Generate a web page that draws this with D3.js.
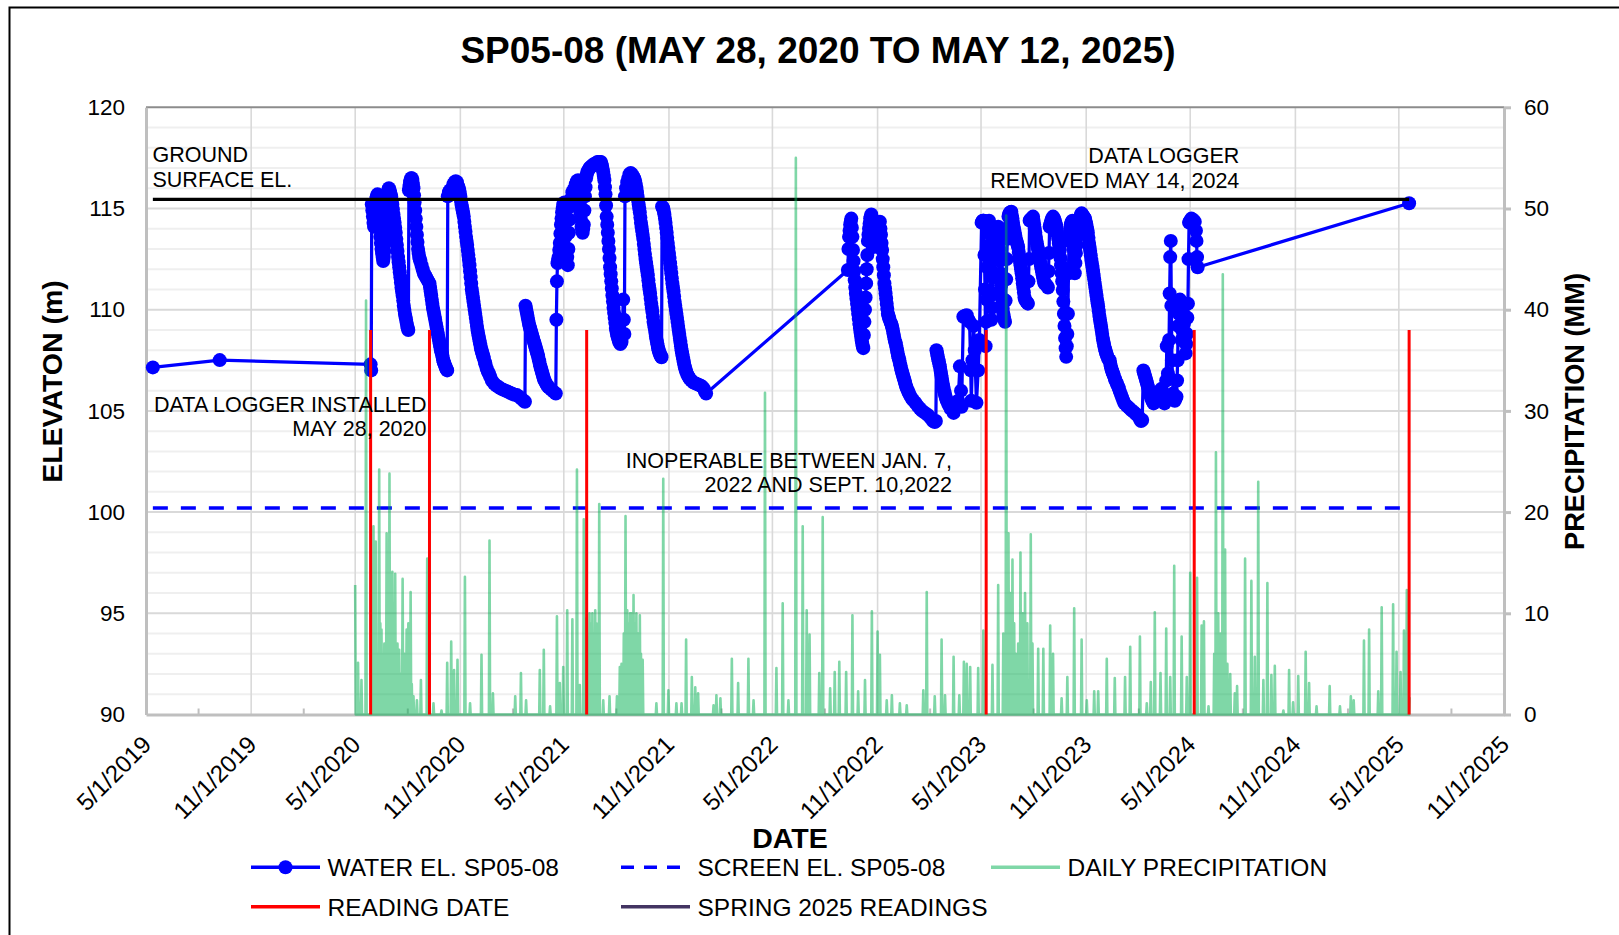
<!DOCTYPE html>
<html>
<head>
<meta charset="utf-8">
<script src="https://d3js.org/d3.v7.min.js"></script>
<style>
html,body{margin:0;padding:0;background:#fff;}
svg{display:block;}
text{font-family:"Liberation Sans",Arial,Helvetica,sans-serif;}
</style>
</head>
<body>
<svg id="chart" width="1619" height="935"></svg>
<script>
// ================= DATA =================
const chartTitle = "SP05-08 (MAY 28, 2020 TO MAY 12, 2025)";
const xTickLabels = ["5/1/2019","11/1/2019","5/1/2020","11/1/2020","5/1/2021","11/1/2021","5/1/2022","11/1/2022","5/1/2023","11/1/2023","5/1/2024","11/1/2024","5/1/2025","11/1/2025"];
const leftTicks = [90,95,100,105,110,115,120];
const rightTicks = [0,10,20,30,40,50,60];

// water elevation (m): manual readings + data logger
const waterReadings = [
["2019-05-13",107.15],["2019-09-07",107.51],["2020-05-28",107.3],["2020-05-29",107.0],
["2020-05-30",115.2],["2020-05-31",114.9],["2020-06-01",114.6],["2020-06-02",114.3],["2020-06-03",114.1],["2020-06-04",114.6],["2020-06-05",115.1],["2020-06-06",115.3],["2020-06-07",115.5],["2020-06-08",115.6],["2020-06-09",115.7],["2020-06-10",115.4],["2020-06-11",115.0],["2020-06-12",114.5],["2020-06-13",114.0],["2020-06-14",113.6],["2020-06-15",113.3],["2020-06-16",113.0],["2020-06-17",112.8],["2020-06-18",112.6],["2020-06-19",112.4],["2020-06-20",112.6],["2020-06-21",112.9],["2020-06-22",113.3],["2020-06-23",113.8],["2020-06-24",114.4],["2020-06-25",115.0],["2020-06-26",115.4],["2020-06-27",115.8],["2020-06-28",115.9],["2020-06-29",116.0],["2020-06-30",115.9],
["2020-07-01",115.8],["2020-07-02",115.7],["2020-07-03",115.6],["2020-07-04",115.4],["2020-07-05",115.2],["2020-07-06",114.95],["2020-07-07",114.7],["2020-07-08",114.5],["2020-07-09",114.3],["2020-07-10",114.05],["2020-07-11",113.8],["2020-07-12",113.5],["2020-07-13",113.2],["2020-07-14",112.9],["2020-07-15",112.6],["2020-07-16",112.35],["2020-07-17",112.1],["2020-07-18",111.85],["2020-07-19",111.6],["2020-07-20",111.35],["2020-07-21",111.1],["2020-07-22",110.9],["2020-07-23",110.7],["2020-07-24",110.45],["2020-07-25",110.2],["2020-07-26",110.0],["2020-07-27",109.8],["2020-07-28",109.65],["2020-07-29",109.5],["2020-07-30",109.35],["2020-07-31",109.2],["2020-08-01",109.1],["2020-08-02",109.0],
["2020-08-03",115.9],["2020-08-04",116.1],["2020-08-05",116.3],["2020-08-06",116.4],["2020-08-07",116.5],["2020-08-08",116.5],["2020-08-09",116.4],["2020-08-10",116.2],["2020-08-11",116.0],["2020-08-12",115.65],["2020-08-13",115.3],["2020-08-14",114.9],["2020-08-15",114.5],["2020-08-16",114.1],["2020-08-17",113.7],["2020-08-18",113.35],["2020-08-19",113.0],["2020-08-20",112.8],["2020-08-21",112.6],["2020-08-22",112.5],["2020-08-23",112.4],["2020-08-25",112.2],["2020-08-27",112.0],["2020-08-29",111.8],["2020-08-31",111.7],["2020-09-02",111.6],["2020-09-04",111.5],["2020-09-06",111.4],["2020-09-08",111.3],["2020-09-09",111.1],["2020-09-10",110.9],["2020-09-11",110.7],["2020-09-12",110.5],["2020-09-13",110.3],["2020-09-14",110.1],["2020-09-15",109.95],["2020-09-16",109.8],["2020-09-17",109.65],["2020-09-18",109.5],["2020-09-19",109.35],["2020-09-20",109.2],["2020-09-21",109.05],["2020-09-22",108.9],["2020-09-23",108.75],["2020-09-24",108.6],["2020-09-25",108.45],["2020-09-26",108.3],["2020-09-27",108.15],["2020-09-28",108.0],["2020-09-29",107.9],["2020-09-30",107.8],["2020-10-01",107.65],["2020-10-02",107.5],["2020-10-03",107.4],["2020-10-04",107.35],["2020-10-05",107.25],["2020-10-06",107.2],["2020-10-07",107.1],["2020-10-08",107.05],["2020-10-09",107.0],
["2020-10-10",115.6],["2020-10-12",115.8],["2020-10-14",115.9],["2020-10-16",115.7],["2020-10-18",116.0],["2020-10-20",116.2],["2020-10-22",116.3],["2020-10-24",116.35],["2020-10-26",116.3],["2020-10-28",116.1],["2020-10-29",116.0],["2020-10-30",115.9],["2020-10-31",115.75],["2020-11-01",115.6],["2020-11-02",115.4],["2020-11-03",115.2],["2020-11-04",115.05],["2020-11-05",114.9],["2020-11-06",114.75],["2020-11-07",114.6],["2020-11-08",114.35],["2020-11-09",114.1],["2020-11-10",113.85],["2020-11-11",113.6],["2020-11-12",113.4],["2020-11-13",113.2],["2020-11-14",112.95],["2020-11-15",112.7],["2020-11-16",112.45],["2020-11-17",112.2],["2020-11-18",111.9],["2020-11-19",111.6],["2020-11-20",111.3],["2020-11-21",111.0],["2020-11-22",110.8],["2020-11-23",110.6],["2020-11-24",110.4],["2020-11-25",110.2],["2020-11-26",110.0],["2020-11-27",109.8],["2020-11-28",109.6],["2020-11-29",109.4],["2020-11-30",109.2],["2020-12-01",109.0],["2020-12-02",108.85],["2020-12-03",108.7],["2020-12-04",108.55],["2020-12-05",108.4],["2020-12-06",108.25],["2020-12-07",108.1],["2020-12-08",108.0],["2020-12-09",107.9],["2020-12-10",107.8],["2020-12-11",107.7],["2020-12-12",107.6],["2020-12-14",107.4],["2020-12-15",107.3],["2020-12-17",107.1],["2020-12-19",106.95],["2020-12-21",106.85],["2020-12-23",106.7],["2020-12-26",106.5],["2020-12-30",106.35],["2021-01-03",106.25],["2021-01-07",106.18],["2021-01-11",106.1],["2021-01-15",106.05],["2021-01-19",106.0],["2021-01-23",105.95],["2021-01-27",105.9],["2021-01-31",105.85],["2021-02-04",105.8],["2021-02-08",105.78],["2021-02-12",105.7],["2021-02-16",105.6],["2021-02-20",105.5],["2021-02-22",105.45],
["2021-02-23",110.2],["2021-02-24",110.05],["2021-02-25",109.9],["2021-02-26",109.75],["2021-02-27",109.6],["2021-02-28",109.45],["2021-03-01",109.3],["2021-03-02",109.2],["2021-03-03",109.1],["2021-03-04",109.0],["2021-03-05",108.9],["2021-03-06",108.8],["2021-03-07",108.7],["2021-03-08",108.6],["2021-03-09",108.5],["2021-03-10",108.4],["2021-03-11",108.3],["2021-03-12",108.2],["2021-03-13",108.1],["2021-03-14",108.0],["2021-03-15",107.9],["2021-03-16",107.8],["2021-03-17",107.7],["2021-03-18",107.57],["2021-03-19",107.45],["2021-03-20",107.32],["2021-03-21",107.2],["2021-03-22",107.1],["2021-03-23",107.0],["2021-03-24",106.9],["2021-03-25",106.8],["2021-03-26",106.7],["2021-03-27",106.6],["2021-03-28",106.52],["2021-03-30",106.4],["2021-04-01",106.3],["2021-04-03",106.22],["2021-04-05",106.15],["2021-04-09",106.05],["2021-04-13",105.95],["2021-04-17",105.86],
["2021-04-18",109.5],["2021-04-19",111.4],["2021-04-20",112.3],["2021-04-21",112.45],["2021-04-22",112.6],["2021-04-23",112.95],["2021-04-24",113.3],["2021-04-25",113.75],["2021-04-26",114.2],["2021-04-27",114.5],["2021-04-28",114.8],["2021-04-29",115.0],["2021-04-30",115.2],["2021-05-01",115.25],["2021-05-02",115.3],["2021-05-03",114.8],["2021-05-04",114.3],["2021-05-05",113.65],["2021-05-06",113.0],["2021-05-07",112.6],["2021-05-08",112.2],["2021-05-09",113.0],["2021-05-10",113.8],["2021-05-11",114.45],["2021-05-12",115.1],["2021-05-13",115.3],["2021-05-14",115.5],["2021-05-16",115.8],["2021-05-18",115.9],["2021-05-20",116.0],["2021-05-22",116.2],["2021-05-24",116.35],["2021-05-26",116.4],["2021-05-27",116.1],["2021-05-28",115.8],["2021-05-29",115.3],["2021-05-30",114.8],["2021-05-31",114.45],["2021-06-01",114.1],["2021-06-02",113.95],["2021-06-03",113.8],["2021-06-04",114.0],["2021-06-05",114.2],["2021-06-06",114.9],["2021-06-07",115.6],["2021-06-08",116.05],["2021-06-09",116.5],["2021-06-10",116.65],["2021-06-11",116.8],["2021-06-13",116.9],["2021-06-15",117.0],["2021-06-17",117.05],["2021-06-19",117.1],["2021-06-21",117.15],["2021-06-23",117.2],["2021-06-25",117.2],["2021-06-27",117.25],["2021-06-29",117.3],["2021-07-01",117.3],["2021-07-03",117.3],["2021-07-05",117.3],["2021-07-06",117.2],["2021-07-07",117.1],["2021-07-08",116.95],["2021-07-09",116.8],["2021-07-10",116.6],["2021-07-11",116.4],["2021-07-12",116.05],["2021-07-13",115.7],["2021-07-14",115.15],["2021-07-15",114.6],["2021-07-16",114.2],["2021-07-17",113.8],["2021-07-18",113.4],["2021-07-19",113.0],["2021-07-20",112.55],["2021-07-21",112.1],["2021-07-22",111.75],["2021-07-23",111.4],["2021-07-24",111.05],["2021-07-25",110.7],["2021-07-26",110.4],["2021-07-27",110.1],["2021-07-28",109.85],["2021-07-29",109.6],["2021-07-30",109.35],["2021-07-31",109.1],["2021-08-01",108.95],["2021-08-02",108.8],["2021-08-03",108.7],["2021-08-04",108.6],["2021-08-05",108.5],["2021-08-06",108.4],["2021-08-08",108.3],["2021-08-10",108.4],["2021-08-12",109.5],["2021-08-13",110.5],["2021-08-14",109.5],["2021-08-15",108.8],
["2021-08-16",115.6],["2021-08-18",116.0],["2021-08-20",116.3],["2021-08-22",116.5],["2021-08-24",116.7],["2021-08-26",116.75],["2021-08-28",116.7],["2021-08-30",116.6],["2021-09-01",116.5],["2021-09-02",116.4],["2021-09-03",116.3],["2021-09-04",116.15],["2021-09-05",116.0],["2021-09-06",115.8],["2021-09-07",115.6],["2021-09-08",115.4],["2021-09-09",115.2],["2021-09-10",115.0],["2021-09-11",114.8],["2021-09-12",114.55],["2021-09-13",114.3],["2021-09-14",114.1],["2021-09-15",113.9],["2021-09-16",113.7],["2021-09-17",113.5],["2021-09-18",113.25],["2021-09-19",113.0],["2021-09-20",112.75],["2021-09-21",112.5],["2021-09-22",112.3],["2021-09-23",112.1],["2021-09-24",111.9],["2021-09-25",111.7],["2021-09-26",111.45],["2021-09-27",111.2],["2021-09-28",111.0],["2021-09-29",110.8],["2021-09-30",110.55],["2021-10-01",110.3],["2021-10-02",110.1],["2021-10-03",109.9],["2021-10-04",109.65],["2021-10-05",109.4],["2021-10-06",109.25],["2021-10-07",109.1],["2021-10-08",108.9],["2021-10-09",108.7],["2021-10-10",108.55],["2021-10-11",108.4],["2021-10-12",108.25],["2021-10-13",108.1],["2021-10-14",108.0],["2021-10-15",107.9],["2021-10-16",107.82],["2021-10-17",107.75],["2021-10-18",107.7],["2021-10-19",107.65],
["2021-10-20",115.1],["2021-10-21",115.05],["2021-10-22",115.0],["2021-10-23",114.85],["2021-10-24",114.7],["2021-10-25",114.5],["2021-10-26",114.3],["2021-10-27",114.05],["2021-10-28",113.8],["2021-10-29",113.55],["2021-10-30",113.3],["2021-10-31",113.05],["2021-11-01",112.8],["2021-11-02",112.55],["2021-11-03",112.3],["2021-11-04",112.05],["2021-11-05",111.8],["2021-11-06",111.55],["2021-11-07",111.3],["2021-11-08",111.1],["2021-11-09",110.9],["2021-11-10",110.65],["2021-11-11",110.4],["2021-11-12",110.2],["2021-11-13",110.0],["2021-11-14",109.8],["2021-11-15",109.6],["2021-11-16",109.4],["2021-11-17",109.2],["2021-11-18",109.0],["2021-11-19",108.8],["2021-11-20",108.6],["2021-11-21",108.4],["2021-11-22",108.2],["2021-11-23",108.0],["2021-11-24",107.85],["2021-11-25",107.7],["2021-11-26",107.55],["2021-11-27",107.4],["2021-11-28",107.27],["2021-11-29",107.15],["2021-11-30",107.05],["2021-12-01",106.95],["2021-12-03",106.8],["2021-12-05",106.7],["2021-12-07",106.6],["2021-12-10",106.5],["2021-12-14",106.4],["2021-12-18",106.35],["2021-12-22",106.3],["2021-12-26",106.25],["2021-12-29",106.2],["2022-01-01",106.1],["2022-01-03",105.95],["2022-01-05",105.86],
["2022-09-10",111.96],["2022-09-11",113.0],["2022-09-12",113.6],["2022-09-13",113.9],["2022-09-14",114.2],["2022-09-15",114.35],["2022-09-16",114.5],["2022-09-17",114.05],["2022-09-18",113.6],["2022-09-19",112.95],["2022-09-20",112.4],["2022-09-21",111.9],["2022-09-22",111.46],["2022-09-23",111.1],["2022-09-24",110.8],["2022-09-25",110.55],["2022-09-26",110.3],["2022-09-27",110.05],["2022-09-28",109.8],["2022-09-29",109.55],["2022-09-30",109.3],["2022-10-01",109.1],["2022-10-02",108.9],["2022-10-03",108.7],["2022-10-04",108.5],["2022-10-05",108.35],["2022-10-06",108.2],["2022-10-07",108.1],["2022-10-08",108.75],["2022-10-09",109.4],["2022-10-10",110.0],["2022-10-11",110.6],["2022-10-12",111.3],["2022-10-13",112.0],["2022-10-14",112.7],["2022-10-15",113.4],["2022-10-16",113.7],["2022-10-17",114.0],["2022-10-18",114.25],["2022-10-19",114.5],["2022-10-20",114.6],["2022-10-21",114.7],["2022-10-22",114.3],["2022-10-23",113.9],["2022-10-24",113.5],["2022-10-25",113.1],["2022-10-26",113.3],["2022-10-27",113.5],["2022-10-28",113.7],["2022-10-29",113.9],["2022-10-30",114.1],["2022-11-01",114.25],["2022-11-03",114.3],["2022-11-05",114.35],["2022-11-06",114.0],["2022-11-07",113.7],["2022-11-08",113.3],["2022-11-09",112.95],["2022-11-10",112.5],["2022-11-11",112.1],["2022-11-12",111.7],["2022-11-13",111.3],["2022-11-14",111.05],["2022-11-15",110.8],["2022-11-16",110.55],["2022-11-17",110.3],["2022-11-18",110.05],["2022-11-19",109.8],["2022-11-20",109.7],["2022-11-21",109.6],["2022-11-22",109.5],["2022-11-24",109.35],["2022-11-25",109.3],["2022-11-26",109.2],["2022-11-27",109.1],["2022-11-28",108.95],["2022-11-29",108.8],["2022-11-30",108.65],["2022-12-01",108.5],["2022-12-02",108.4],["2022-12-03",108.3],["2022-12-04",108.15],["2022-12-05",108.0],["2022-12-06",107.85],["2022-12-07",107.7],["2022-12-08",107.6],["2022-12-09",107.5],["2022-12-10",107.37],["2022-12-11",107.25],["2022-12-12",107.12],["2022-12-13",107.0],["2022-12-14",106.9],["2022-12-15",106.8],["2022-12-16",106.7],["2022-12-17",106.6],["2022-12-18",106.5],["2022-12-19",106.4],["2022-12-20",106.3],["2022-12-21",106.2],["2022-12-22",106.13],["2022-12-24",106.0],["2022-12-25",105.93],["2022-12-27",105.8],["2022-12-30",105.65],["2023-01-02",105.53],["2023-01-06",105.4],["2023-01-10",105.25],["2023-01-14",105.12],["2023-01-18",105.0],["2023-01-23",104.9],["2023-01-28",104.8],["2023-02-02",104.65],["2023-02-06",104.5],["2023-02-09",104.45],["2023-02-11",104.5],
["2023-02-12",108.0],["2023-02-13",107.85],["2023-02-14",107.7],["2023-02-15",107.57],["2023-02-16",107.45],["2023-02-17",107.32],["2023-02-18",107.2],["2023-02-19",107.02],["2023-02-20",106.85],["2023-02-21",106.67],["2023-02-22",106.5],["2023-02-23",106.35],["2023-02-24",106.2],["2023-02-25",106.05],["2023-02-26",105.93],["2023-02-27",105.8],["2023-02-28",105.7],["2023-03-01",105.6],["2023-03-02",105.5],["2023-03-05",105.3],["2023-03-09",105.1],["2023-03-14",104.9],["2023-03-18",105.2],["2023-03-22",105.5],["2023-03-25",107.2],["2023-03-27",106.0],["2023-03-28",105.2],["2023-03-31",109.65],["2023-04-03",109.7],["2023-04-06",109.73],["2023-04-09",109.5],["2023-04-11",109.4],["2023-04-13",107.0],["2023-04-14",105.5],["2023-04-16",107.5],["2023-04-18",109.2],["2023-04-20",108.0],["2023-04-23",105.4],["2023-04-26",107.0],["2023-04-28",108.5],
["2023-05-02",114.3],["2023-05-03",114.35],["2023-05-04",114.4],["2023-05-05",114.4],["2023-05-06",114.4],["2023-05-07",112.7],["2023-05-08",111.0],["2023-05-09",108.2],["2023-05-10",109.4],["2023-05-11",110.5],["2023-05-12",112.1],["2023-05-13",113.0],["2023-05-14",113.8],["2023-05-15",114.4],["2023-05-16",113.2],["2023-05-17",112.0],["2023-05-18",110.7],["2023-05-19",109.5],["2023-05-20",110.1],["2023-05-21",110.8],["2023-05-22",111.6],["2023-05-23",112.5],["2023-05-24",113.0],["2023-05-25",113.4],["2023-05-26",113.55],["2023-05-27",113.7],["2023-05-28",113.8],["2023-05-29",113.9],["2023-05-30",114.0],["2023-05-31",114.1],["2023-06-01",113.55],["2023-06-02",113.0],["2023-06-03",112.4],["2023-06-04",111.8],["2023-06-05",111.2],["2023-06-06",110.6],["2023-06-07",110.3],["2023-06-08",110.05],["2023-06-09",109.8],["2023-06-10",109.65],["2023-06-11",109.5],["2023-06-12",109.4],["2023-06-13",110.45],["2023-06-14",111.5],["2023-06-15",112.5],["2023-06-16",113.5],["2023-06-17",114.05],["2023-06-18",114.6],["2023-06-19",114.7],["2023-06-20",114.75],["2023-06-21",114.8],["2023-06-22",114.82],["2023-06-23",114.84],["2023-06-24",114.65],["2023-06-25",114.5],["2023-06-26",114.3],["2023-06-27",114.1],["2023-06-28",113.95],["2023-06-29",113.8],["2023-06-30",113.65],
["2023-07-01",113.5],["2023-07-02",113.4],["2023-07-03",113.3],["2023-07-04",113.2],["2023-07-05",113.1],["2023-07-06",112.85],["2023-07-07",112.6],["2023-07-08",112.4],["2023-07-09",112.2],["2023-07-10",112.0],["2023-07-11",111.8],["2023-07-12",111.55],["2023-07-13",111.3],["2023-07-14",111.1],["2023-07-15",110.85],["2023-07-16",110.6],["2023-07-17",110.5],["2023-07-19",110.4],["2023-07-21",110.35],["2023-07-22",110.3],["2023-07-23",111.4],["2023-07-24",112.5],["2023-07-25",114.4],["2023-07-26",114.45],["2023-07-28",114.5],["2023-07-30",114.55],["2023-07-31",114.6],["2023-08-01",114.4],["2023-08-02",114.2],["2023-08-03",114.0],["2023-08-04",113.8],["2023-08-05",113.6],["2023-08-06",113.4],["2023-08-07",113.25],["2023-08-08",113.1],["2023-08-09",112.95],["2023-08-10",112.8],["2023-08-11",112.65],["2023-08-12",112.5],["2023-08-13",112.3],["2023-08-14",112.15],["2023-08-15",112.0],["2023-08-16",111.85],["2023-08-17",111.7],["2023-08-18",111.55],["2023-08-19",111.4],["2023-08-20",111.3],["2023-08-22",111.25],["2023-08-24",111.2],["2023-08-26",111.1],["2023-08-27",111.9],["2023-08-28",112.8],["2023-08-29",114.1],["2023-08-30",114.2],["2023-08-31",114.3],["2023-09-01",114.4],["2023-09-02",114.5],["2023-09-04",114.6],["2023-09-06",114.5],["2023-09-07",114.4],["2023-09-08",114.3],["2023-09-09",114.2],["2023-09-10",114.1],["2023-09-11",113.9],["2023-09-12",113.7],["2023-09-13",113.5],["2023-09-14",113.3],["2023-09-15",113.1],["2023-09-16",112.95],["2023-09-17",112.55],["2023-09-18",112.2],["2023-09-19",111.8],["2023-09-20",111.4],["2023-09-21",110.97],["2023-09-22",110.4],["2023-09-23",109.8],["2023-09-24",109.2],["2023-09-25",108.6],["2023-09-26",108.1],["2023-09-27",107.67],["2023-09-28",108.2],["2023-09-29",108.8],["2023-09-30",109.8],
["2023-10-01",111.8],["2023-10-02",113.4],["2023-10-03",113.7],["2023-10-04",114.0],["2023-10-05",114.2],["2023-10-06",114.3],["2023-10-07",114.35],["2023-10-08",114.4],["2023-10-09",113.7],["2023-10-10",113.0],["2023-10-11",112.4],["2023-10-12",111.8],["2023-10-13",112.3],["2023-10-14",112.8],["2023-10-15",113.2],["2023-10-16",113.6],["2023-10-17",113.85],["2023-10-18",114.1],["2023-10-19",114.25],["2023-10-20",114.4],["2023-10-21",114.5],["2023-10-22",114.6],["2023-10-23",114.7],["2023-10-24",114.76],["2023-10-25",114.7],["2023-10-26",114.65],["2023-10-27",114.6],["2023-10-28",114.57],["2023-10-29",114.53],["2023-10-30",114.5],["2023-10-31",114.35],["2023-11-01",114.25],["2023-11-02",114.1],["2023-11-03",113.95],["2023-11-04",113.8],["2023-11-05",113.55],["2023-11-06",113.3],["2023-11-07",113.1],["2023-11-08",112.9],["2023-11-09",112.68],["2023-11-10",112.45],["2023-11-11",112.28],["2023-11-12",112.1],["2023-11-13",111.9],["2023-11-14",111.7],["2023-11-15",111.5],["2023-11-16",111.3],["2023-11-17",111.1],["2023-11-18",110.9],["2023-11-19",110.7],["2023-11-20",110.5],["2023-11-21",110.32],["2023-11-22",110.15],["2023-11-23",109.92],["2023-11-24",109.7],["2023-11-25",109.52],["2023-11-26",109.35],["2023-11-27",109.17],["2023-11-28",109.0],["2023-11-29",108.8],["2023-11-30",108.6],["2023-12-01",108.45],["2023-12-02",108.3],["2023-12-03",108.17],["2023-12-04",108.05],["2023-12-05",107.95],["2023-12-06",107.85],["2023-12-07",107.75],["2023-12-09",107.6],["2023-12-11",107.52],["2023-12-12",107.5],["2023-12-13",107.35],["2023-12-14",107.2],["2023-12-15",107.1],["2023-12-16",107.0],["2023-12-17",106.92],["2023-12-18",106.85],["2023-12-19",106.77],["2023-12-21",106.6],["2023-12-22",106.53],["2023-12-24",106.4],["2023-12-25",106.33],["2023-12-27",106.2],["2023-12-28",106.12],["2023-12-30",105.95],["2024-01-01",105.8],["2024-01-03",105.65],["2024-01-05",105.5],["2024-01-07",105.37],["2024-01-11",105.25],["2024-01-15",105.15],["2024-01-19",105.04],["2024-01-23",104.95],["2024-01-27",104.85],["2024-01-31",104.75],["2024-02-03",104.6],["2024-02-05",104.5],["2024-02-07",104.55],
["2024-02-09",107.0],["2024-02-10",106.9],["2024-02-11",106.8],["2024-02-12",106.7],["2024-02-13",106.6],["2024-02-14",106.5],["2024-02-15",106.4],["2024-02-16",106.3],["2024-02-17",106.2],["2024-02-18",106.08],["2024-02-19",105.97],["2024-02-20",105.86],["2024-02-21",105.77],["2024-02-23",105.6],["2024-02-25",105.48],["2024-02-27",105.37],["2024-03-01",105.6],["2024-03-04",105.8],["2024-03-06",105.86],["2024-03-09",106.0],["2024-03-12",106.1],["2024-03-15",105.7],["2024-03-17",105.37],["2024-03-20",106.5],["2024-03-21",108.2],["2024-03-23",106.85],["2024-03-25",108.5],["2024-03-26",110.8],["2024-03-27",112.6],["2024-03-28",113.4],["2024-03-29",110.2],["2024-03-30",107.5],["2024-04-01",105.86],["2024-04-02",105.7],["2024-04-03",105.55],["2024-04-04",105.5],["2024-04-05",105.6],["2024-04-06",105.65],["2024-04-07",105.7],["2024-04-08",106.5],["2024-04-09",107.5],["2024-04-10",109.2],["2024-04-11",109.8],["2024-04-12",110.2],["2024-04-13",110.5],["2024-04-14",109.8],["2024-04-15",109.1],["2024-04-16",108.5],["2024-04-17",109.0],["2024-04-18",109.5],["2024-04-19",109.8],["2024-04-20",109.3],["2024-04-21",108.9],["2024-04-22",108.4],["2024-04-23",107.84],["2024-04-24",108.3],["2024-04-25",108.8],["2024-04-26",109.6],["2024-04-27",110.3],["2024-04-28",112.5],["2024-04-29",114.3],["2024-04-30",114.35],["2024-05-01",114.4],["2024-05-03",114.5],["2024-05-06",114.45],["2024-05-09",114.35],["2024-05-11",113.9],["2024-05-12",113.4],["2024-05-13",112.6],["2024-05-14",112.1],
["2025-05-19",115.26]
];

// daily precipitation (mm); days not listed had no precipitation
const precipStart = "2020-05-01";
const precipEnd = "2025-05-20";
const precipReadings = [
["2020-05-01",12.8],["2020-05-06",5.1],["2020-05-12",3.4],["2020-05-20",40.9],["2020-06-02",18.6],["2020-06-04",8.0],["2020-06-06",17.1],["2020-06-09",6.0],["2020-06-12",24.2],["2020-06-14",9.0],["2020-06-16",8.4],["2020-06-18",5.0],["2020-06-21",7.0],["2020-06-25",17.9],["2020-06-27",12.0],["2020-06-30",23.8],["2020-07-02",8.0],["2020-07-05",14.1],["2020-07-07",9.0],["2020-07-10",13.9],["2020-07-12",5.0],["2020-07-14",7.0],["2020-07-17",6.4],["2020-07-20",4.0],["2020-07-23",13.4],["2020-07-26",6.0],["2020-07-30",8.4],["2020-08-02",9.0],["2020-08-04",4.0],["2020-08-06",12.1],["2020-08-08",3.0],["2020-08-11",1.8],["2020-08-17",1.4],["2020-08-24",3.4],["2020-09-04",15.4],["2020-09-15",1.1],["2020-09-29",0.4],["2020-10-09",5.1],["2020-10-16",7.2],["2020-10-21",4.4],["2020-10-27",5.4],["2020-11-09",13.6],["2020-11-18",1.1],["2020-12-08",5.9],["2020-12-22",17.2],["2020-12-28",2.1],
["2021-02-05",1.8],["2021-02-15",4.1],["2021-02-24",1.4],["2021-03-20",4.4],["2021-03-27",6.4],["2021-04-07",0.8],["2021-04-19",9.7],["2021-04-24",3.1],["2021-04-30",4.7],["2021-05-07",10.3],["2021-05-16",9.4],["2021-05-24",24.2],["2021-05-29",2.9],["2021-06-05",19.3],["2021-06-07",8.0],["2021-06-10",9.5],["2021-06-15",10.0],["2021-06-17",9.0],["2021-06-20",10.0],["2021-06-22",8.0],["2021-06-25",10.3],["2021-06-27",9.0],["2021-06-29",6.0],["2021-07-02",20.8],["2021-07-09",1.4],["2021-07-20",1.8],["2021-08-02",1.8],["2021-08-07",4.7],["2021-08-10",5.0],["2021-08-14",8.0],["2021-08-17",19.6],["2021-08-20",10.3],["2021-08-22",9.0],["2021-08-25",10.0],["2021-08-27",10.0],["2021-08-31",11.8],["2021-09-02",9.0],["2021-09-05",10.0],["2021-09-08",8.0],["2021-09-11",9.8],["2021-09-13",6.0],["2021-09-16",5.4],["2021-10-10",1.1],["2021-10-22",23.3],["2021-10-31",2.4],["2021-11-14",1.1],["2021-11-23",1.1],["2021-12-01",7.4],["2021-12-11",3.7],["2021-12-17",2.7],["2021-12-22",2.1],
["2022-01-18",0.9],["2022-01-23",1.9],["2022-01-30",1.6],["2022-02-19",5.5],["2022-03-02",3.1],["2022-03-20",5.5],["2022-03-29",1.4],["2022-04-18",31.8],["2022-05-08",4.6],["2022-05-19",11.0],["2022-05-29",1.4],["2022-06-11",55.0],["2022-06-23",18.6],["2022-06-30",10.3],["2022-07-05",7.9],["2022-07-22",4.1],["2022-07-28",19.5],["2022-08-10",2.6],["2022-08-18",4.2],["2022-08-26",5.2],["2022-09-07",4.2],["2022-09-18",9.8],["2022-09-28",2.3],["2022-10-10",3.4],["2022-10-22",10.2],["2022-11-01",8.2],["2022-11-05",5.9],["2022-11-17",1.4],["2022-11-26",1.9],["2022-12-10",1.1],["2022-12-22",0.9],
["2023-01-20",2.4],["2023-01-26",12.1],["2023-02-09",1.8],["2023-02-21",7.4],["2023-02-27",1.9],["2023-03-14",5.7],["2023-03-24",1.9],["2023-04-01",5.2],["2023-04-06",5.0],["2023-04-12",4.7],["2023-04-26",4.6],["2023-05-05",8.3],["2023-05-21",4.9],["2023-05-31",12.8],["2023-06-09",8.0],["2023-06-14",49.3],["2023-06-16",10.0],["2023-06-18",17.9],["2023-06-21",12.0],["2023-06-25",15.3],["2023-06-28",9.0],["2023-07-01",6.0],["2023-07-05",7.0],["2023-07-09",16.0],["2023-07-13",10.0],["2023-07-17",12.0],["2023-07-21",9.0],["2023-07-27",17.8],["2023-07-30",7.0],["2023-08-09",6.5],["2023-08-18",6.5],["2023-08-30",8.8],["2023-09-04",6.0],["2023-09-19",1.6],["2023-09-29",3.7],["2023-10-11",10.5],["2023-10-24",7.4],["2023-11-02",1.4],["2023-11-15",2.3],["2023-11-22",2.3],["2023-12-07",5.5],["2023-12-21",3.6],
["2024-01-08",3.7],["2024-01-17",6.7],["2024-02-03",7.7],["2024-02-15",1.1],["2024-02-22",3.2],["2024-02-29",10.1],["2024-03-10",4.1],["2024-03-20",8.5],["2024-03-27",3.7],["2024-04-03",14.7],["2024-04-16",7.7],["2024-04-25",3.7],["2024-05-01",14.0],["2024-05-13",13.5],["2024-05-21",8.8],["2024-05-25",9.2],["2024-06-02",0.8],["2024-06-12",6.0],["2024-06-15",25.9],["2024-06-19",10.0],["2024-06-23",8.0],["2024-06-27",43.5],["2024-06-29",12.0],["2024-07-01",16.3],["2024-07-05",5.0],["2024-07-10",4.0],["2024-07-18",2.1],["2024-07-22",2.8],["2024-08-05",15.4],["2024-08-16",13.2],["2024-08-22",5.7],["2024-08-28",23.0],["2024-09-06",3.4],["2024-09-13",13.0],["2024-09-20",3.9],["2024-09-26",4.8],["2024-10-11",0.4],["2024-10-21",4.4],["2024-10-28",1.2],["2024-11-06",3.8],["2024-11-19",6.2],["2024-11-25",3.1],["2024-12-08",0.8],["2024-12-31",2.8],
["2025-01-18",0.8],["2025-02-06",1.8],["2025-02-11",1.4],["2025-03-01",7.3],["2025-03-10",8.4],["2025-03-26",2.3],["2025-04-01",10.6],["2025-04-21",10.9],["2025-04-27",6.2],["2025-05-04",4.2],["2025-05-10",8.3],["2025-05-15",12.3],["2025-05-20",1.7]
];

const readingDates = ["2020-05-28","2020-09-08","2021-06-10","2023-05-10","2024-05-08","2025-05-19"];
const readingMarkTopMM = 38;
const groundSurfaceEl = 115.45;
const screenEl = 100.2;
const refLineDates = ["2019-05-13","2025-05-19"];

const legendLabels = ["WATER EL. SP05-08","SCREEN EL. SP05-08","DAILY PRECIPITATION","READING DATE","SPRING 2025 READINGS"];

// ================= DRAWING =================
const svg = d3.select("#chart");
const P = {l:146, r:1504, t:107.3, b:714.5};
const FONT = '"Liberation Sans",Arial,sans-serif';
const parseISO = d3.timeParse("%Y-%m-%d");
const parseUS = d3.timeParse("%m/%d/%Y");
const fmtISO = d3.timeFormat("%Y-%m-%d");
const tickDates = xTickLabels.map(parseUS);

const x = d3.scaleTime().domain([tickDates[0], tickDates[tickDates.length-1]]).range([P.l, P.r]);
const yL = d3.scaleLinear().domain([90,120]).range([P.b, P.t]);
const yR = d3.scaleLinear().domain([0,60]).range([P.b, P.t]);

const BLUE = "#0000ff", RED = "#ff0000", GREEN = "#00b050", PURPLE = "#433462";

// outer frame
svg.append("rect").attr("x",9.5).attr("y",7.5).attr("width",1700).attr("height",1000)
  .attr("fill","none").attr("stroke","#000").attr("stroke-width",2);

// gridlines
const grid = svg.append("g");
grid.append("g").selectAll("line").data(d3.range(91,120).filter(v => v % 5 !== 0)).join("line")
  .attr("x1",P.l).attr("x2",P.r).attr("y1",d=>yL(d)).attr("y2",d=>yL(d))
  .attr("stroke","#efefef").attr("stroke-width",2);
grid.append("g").selectAll("line").data(leftTicks.filter(v => v>90 && v<120)).join("line")
  .attr("x1",P.l).attr("x2",P.r).attr("y1",d=>yL(d)).attr("y2",d=>yL(d))
  .attr("stroke","#d9d9d9").attr("stroke-width",2);
grid.append("g").selectAll("line").data(tickDates.slice(1,-1)).join("line")
  .attr("x1",d=>x(d)).attr("x2",d=>x(d)).attr("y1",P.t).attr("y2",P.b)
  .attr("stroke","#d9d9d9").attr("stroke-width",1.6);

// plot-area top border
svg.append("line").attr("x1",P.l).attr("x2",P.r).attr("y1",P.t).attr("y2",P.t)
  .attr("stroke","#8c8c8c").attr("stroke-width",2);

// axes
const axL = svg.append("g").attr("transform",`translate(${P.l},0)`)
  .call(d3.axisLeft(yL).tickValues(leftTicks).tickSize(0).tickSizeOuter(0).tickPadding(21));
const axB = svg.append("g").attr("transform",`translate(0,${P.b})`)
  .call(d3.axisBottom(x).tickValues(tickDates).tickSize(0).tickSizeOuter(0).tickFormat((d,i)=>xTickLabels[i]));
const axR = svg.append("g").attr("transform",`translate(${P.r},0)`)
  .call(d3.axisRight(yR).tickValues(rightTicks).tickSize(7).tickSizeOuter(0).tickPadding(13));
[axL,axB,axR].forEach(a => {
  a.attr("font-family",FONT).attr("font-size",22.5);
  a.select(".domain").attr("stroke","#bfbfbf").attr("stroke-width",3);
  a.selectAll(".tick line").attr("stroke","#bfbfbf").attr("stroke-width",3);
  a.selectAll("text").attr("fill","#000");
});
axB.attr("font-size",24);
axB.selectAll("text").attr("text-anchor","end").attr("transform","rotate(-45)")
  .attr("x",-18).attr("y",9.5).attr("dy","0.72em");
// small inside ticks between labelled dates
svg.append("g").selectAll("line").data(tickDates.slice(0,-1).map(d => d3.timeMonth.offset(d,3))).join("line")
  .attr("x1",d=>x(d)).attr("x2",d=>x(d)).attr("y1",P.b).attr("y2",P.b-6)
  .attr("stroke","#bfbfbf").attr("stroke-width",2);

// water elevation series
const water = waterReadings.map(([d,v]) => ({date:parseISO(d), value:v}));
svg.append("path").datum(water)
  .attr("d", d3.line().x(d=>x(d.date)).y(d=>yL(d.value)))
  .attr("fill","none").attr("stroke",BLUE).attr("stroke-width",3.25).attr("stroke-linejoin","round");
svg.append("g").selectAll("circle").data(water).join("circle")
  .attr("cx",d=>x(d.date)).attr("cy",d=>yL(d.value)).attr("r",7).attr("fill",BLUE);

// ground surface and screen elevation
const refDates = refLineDates.map(parseISO);
svg.append("path").datum(refDates)
  .attr("d", d3.line().x(d=>x(d)).y(()=>yL(groundSurfaceEl)))
  .attr("fill","none").attr("stroke","#000").attr("stroke-width",3.4);
svg.append("path").datum(refDates)
  .attr("d", d3.line().x(d=>x(d)).y(()=>yL(screenEl)))
  .attr("fill","none").attr("stroke",BLUE).attr("stroke-width",3.5).attr("stroke-dasharray","15,13");

// daily precipitation (secondary axis)
const pMap = new Map(precipReadings);
const pDays = d3.timeDay.range(parseISO(precipStart), d3.timeDay.offset(parseISO(precipEnd),1));
const precip = pDays.map(d => ({date:d, value: pMap.get(fmtISO(d)) || 0}));
svg.append("path").datum(precip)
  .attr("d", d3.line().x(d=>x(d.date)).y(d=>yR(d.value)))
  .attr("fill","none").attr("stroke",GREEN).attr("stroke-opacity",0.5)
  .attr("stroke-width",2.6).attr("stroke-linejoin","round");

// reading dates
svg.append("g").selectAll("line").data(readingDates.map(parseISO)).join("line")
  .attr("x1",d=>x(d)).attr("x2",d=>x(d)).attr("y1",yR(0)).attr("y2",yR(readingMarkTopMM))
  .attr("stroke",RED).attr("stroke-width",3);

// annotations
function addText(lines, xPos, yPos, anchor, size, weight) {
  const t = svg.append("text").attr("font-family",FONT).attr("font-size",size)
    .attr("font-weight",weight||"normal").attr("text-anchor",anchor).attr("fill","#000");
  lines.forEach((s,i) => t.append("tspan").attr("x",xPos).attr("y",yPos + i*24.4).text(s));
  return t;
}
svg.append("text").attr("x",818).attr("y",63.3).attr("text-anchor","middle")
  .attr("font-family",FONT).attr("font-size",37).attr("font-weight","bold").text(chartTitle);
addText(["GROUND","SURFACE EL."], 152.5, 162.3, "start", 21.5);
addText(["DATA LOGGER","REMOVED MAY 14, 2024"], 1239.3, 163.3, "end", 21.5);
addText(["DATA LOGGER INSTALLED","MAY 28, 2020"], 426.5, 411.5, "end", 21.5);
addText(["INOPERABLE BETWEEN JAN. 7,","2022 AND SEPT. 10,2022"], 952, 467.7, "end", 21.5);

// axis titles
svg.append("text").attr("transform","translate(62,381.5) rotate(-90)").attr("text-anchor","middle")
  .attr("font-family",FONT).attr("font-size",28.5).attr("font-weight","bold").text("ELEVATON (m)");
svg.append("text").attr("transform","translate(1584,411.5) rotate(-90)").attr("text-anchor","middle")
  .attr("font-family",FONT).attr("font-size",27.2).attr("font-weight","bold").text("PRECIPITATION (MM)");
svg.append("text").attr("x",790).attr("y",847.5).attr("text-anchor","middle")
  .attr("font-family",FONT).attr("font-size",28.5).attr("font-weight","bold").text("DATE");

// legend
const leg = svg.append("g").attr("font-family",FONT).attr("font-size",24.5);
const legItems = [
  {label:legendLabels[0], x:251, y:867.3, color:BLUE, marker:true},
  {label:legendLabels[1], x:621, y:867.3, color:BLUE, dash:true},
  {label:legendLabels[2], x:991, y:867.3, color:GREEN, opacity:0.5},
  {label:legendLabels[3], x:251, y:906.7, color:RED},
  {label:legendLabels[4], x:621, y:906.7, color:PURPLE}
];
legItems.forEach(it => {
  leg.append("line").attr("x1",it.x).attr("x2",it.x+69).attr("y1",it.y).attr("y2",it.y)
    .attr("stroke",it.color).attr("stroke-width",it.dash?3.5:3.4)
    .attr("stroke-opacity",it.opacity||1)
    .attr("stroke-dasharray",it.dash?"13,10":null);
  if (it.marker) leg.append("circle").attr("cx",it.x+34.5).attr("cy",it.y).attr("r",7).attr("fill",it.color);
  leg.append("text").attr("x",it.x+76.5).attr("y",it.y+8.8).attr("fill","#000").text(it.label);
});
</script>
</body>
</html>
